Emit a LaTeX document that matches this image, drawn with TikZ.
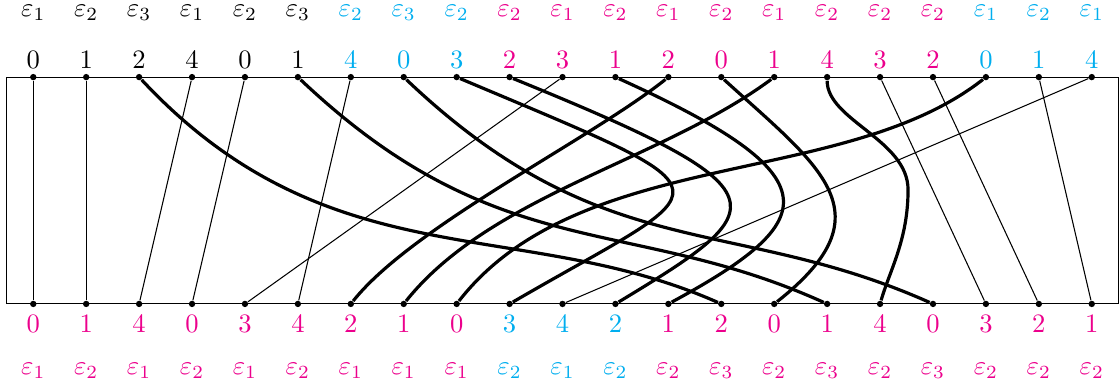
\documentclass[tikz,border=0pt]{standalone}
\usetikzlibrary{positioning}
\definecolor{cy}{RGB}{0,174,239}
\definecolor{mg}{RGB}{236,0,140}

\begin{document}
\begin{tikzpicture}[
  vertex/.style={circle, fill, inner sep=0pt, minimum size=2.4pt},
  wire/.style={line width=0.4pt},
  strand/.style={very thick},
  lab/.style={anchor=base, inner sep=0pt}
]
\useasboundingbox (-0.44,-1.07) rectangle (14.36,4.02);
\draw (-0.35,0) rectangle (14.35,3);
\foreach \n/\e/\c [count=\i from 0] in {0/1/black,1/2/black,2/3/black,4/1/black,0/2/black,1/3/black,4/2/cy,0/3/cy,3/2/cy,2/2/mg,3/1/mg,1/2/mg,2/1/mg,0/2/mg,1/1/mg,4/2/mg,3/2/mg,2/2/mg,0/1/cy,1/2/cy,4/1/cy} {
  \node[vertex] (t\i) at (0.7*\i,3) {};
  \node[lab, text=\c] at (0.7*\i,3.12) {$\n$};
  \node[lab, text=\c] at (0.7*\i,3.80) {$\varepsilon_{\e}$};
}
\foreach \n/\e/\c [count=\i from 0] in {0/1/mg,1/2/mg,4/1/mg,0/2/mg,3/1/mg,4/2/mg,2/1/mg,1/1/mg,0/1/mg,3/2/cy,4/1/cy,2/2/cy,1/2/mg,2/3/mg,0/2/mg,1/3/mg,4/2/mg,0/3/mg,3/2/mg,2/2/mg,1/2/mg} {
  \node[vertex] (b\i) at (0.7*\i,0) {};
  \node[lab, text=\c] at (0.7*\i,-0.384) {$\n$};
  \node[lab, text=\c] at (0.7*\i,-0.939) {$\varepsilon_{\e}$};
}
\foreach \a/\b in {0/0,1/1,3/2,4/3,6/5,10/4,16/18,17/19,19/20,20/10}
  \draw[wire] (t\a) -- (b\b);
\draw[strand] (t2) .. controls +(2.52,-2.70) and +(-2.66,1.18) .. (b13);
\draw[strand] (t5) .. controls +(2.65,-2.51) and +(-2.63,1.19) .. (b15);
\draw[strand] (t7) .. controls +(2.64,-2.51) and +(-2.67,1.19) .. (b17);
\draw[strand] (t12) .. controls +(-1.04,-0.83) and +(0.82,1.03) .. (b6);
\draw[strand] (t14) .. controls +(-1.50,-1.11) and +(1.15,1.44) .. (b7);
\draw[strand] (t18) .. controls +(-1.88,-1.48) and +(1.63,2.09) .. (b8);
\draw[strand] (t8) .. controls +(3.84,-1.62) and +(2.82,1.64) .. (b9);
\draw[strand] (t9) .. controls +(3.71,-1.51) and +(2.12,1.28) .. (b11);
\draw[strand] (t11) .. controls +(2.92,-1.32) and +(2.03,1.10) .. (b12);
\draw[strand] (t13) .. controls +(1.32,-1.20) and +(1.52,1.20) .. (b14);
\coordinate (k15) at (11.57,1.51);
\draw[strand] (t15) .. controls +(0,-0.57) and +(0,0.66) .. (k15)
  .. controls +(0,-0.66) and +(0.13,0.45) .. (b16);
\end{tikzpicture}
\end{document}
